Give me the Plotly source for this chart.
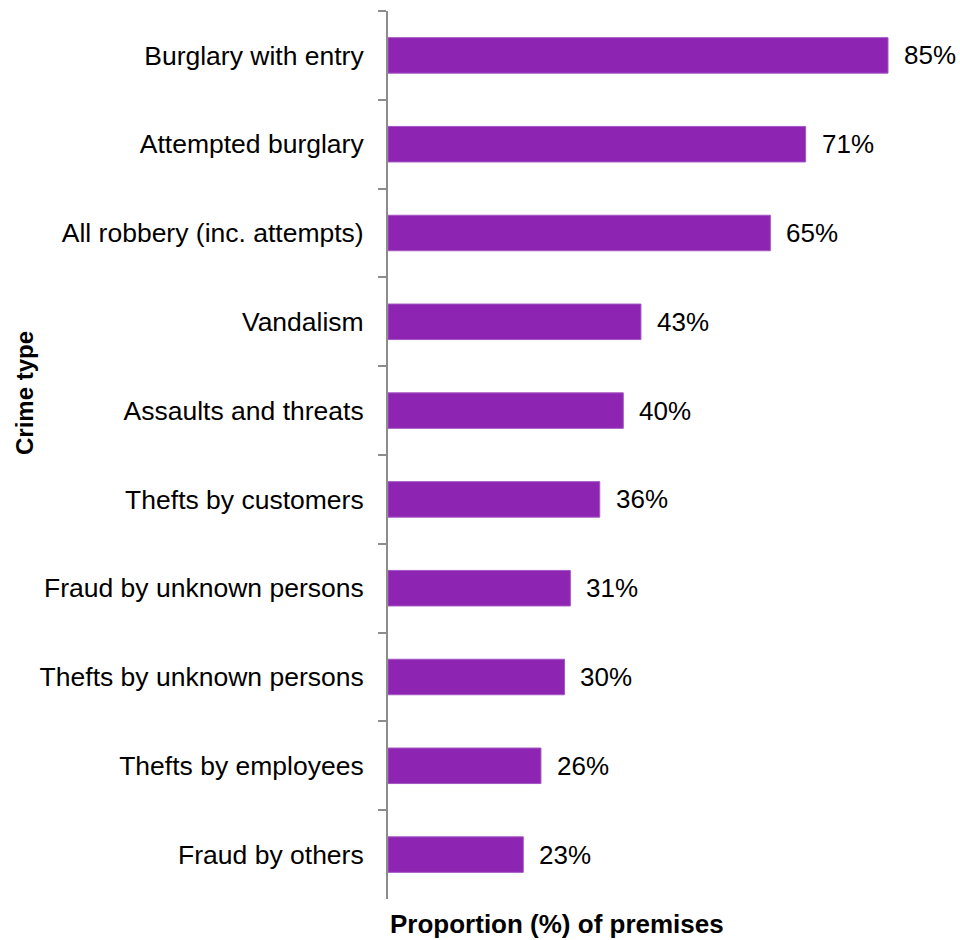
import plotly.graph_objects as go

crime_types = [
    "Burglary with entry",
    "Attempted burglary",
    "All robbery (inc. attempts)",
    "Vandalism",
    "Assaults and threats",
    "Thefts by customers",
    "Fraud by unknown persons",
    "Thefts by unknown persons",
    "Thefts by employees",
    "Fraud by others",
]
proportions = [85, 71, 65, 43, 40, 36, 31, 30, 26, 23]

BAR_COLOR = "#8E24B2"
FONT = "Liberation Sans, Arial, sans-serif"

# plot-area geometry in pixels
L, R, T, B = 388, 10, 11, 41
W, H = 960, 940
PX_PER_PCT = 500 / 85

fig = go.Figure(
    go.Bar(
        x=proportions,
        y=crime_types,
        orientation="h",
        marker=dict(color=BAR_COLOR, line=dict(color="#A457C4", width=1)),
        hoverinfo="x+y",
    )
)

# value labels to the right of each bar
for cat, val in zip(crime_types, proportions):
    fig.add_annotation(
        x=val, y=cat, xref="x", yref="y",
        text=f"{val}%", showarrow=False,
        xanchor="left", xshift=14,
        font=dict(family=FONT, size=26, color="#000000"),
    )

fig.add_annotation(
    x=0, y=-0.028, xref="x", yref="paper",
    text="<b>Proportion (%) of premises</b>", showarrow=False,
    xanchor="left", yanchor="middle",
    font=dict(family=FONT, size=26, color="#000000"),
)
fig.add_annotation(
    x=(24 - L) / (W - L - R), y=(H - B - 393) / (H - T - B),
    xref="paper", yref="paper",
    xanchor="center", yanchor="middle",
    text="<b>Crime type</b>", showarrow=False, textangle=-90,
    font=dict(family=FONT, size=24, color="#000000"),
)

fig.update_layout(
    width=W, height=H,
    margin=dict(l=L, r=R, t=T, b=B),
    plot_bgcolor="white", paper_bgcolor="white",
    bargap=0.6,
    showlegend=False,
    font=dict(family=FONT, size=26, color="#000000"),
)
fig.update_xaxes(
    range=[0, (W - L - R) / PX_PER_PCT],
    showgrid=False, zeroline=False, showticklabels=False, ticks="",
    showline=False,
)
fig.update_yaxes(
    autorange="reversed",
    showline=True, linecolor="#8C8C8C", linewidth=2,
    ticks="outside", tickson="boundaries", ticklen=8, tickwidth=2, tickcolor="#8C8C8C",
    ticklabelstandoff=17,
    tickfont=dict(family=FONT, size=26.5, color="#000000"),
    showgrid=False,
)

fig.write_html("out.html")
